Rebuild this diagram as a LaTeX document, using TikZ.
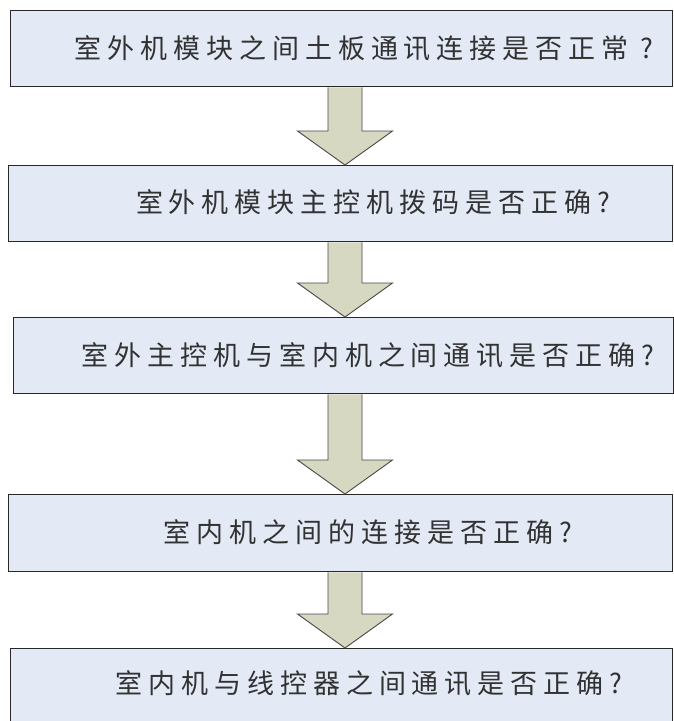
\documentclass[tikz,border=0pt]{standalone}
\usepackage{fontspec}
\newfontfamily\cjk[LetterSpace=22]{Noto Sans CJK SC}
\usetikzlibrary{calc}
\definecolor{boxfill}{RGB}{227,234,246}
\definecolor{arrfill}{RGB}{215,216,194}
\definecolor{txtgray}{RGB}{50,50,50}
\definecolor{edge}{RGB}{40,40,40}
\newcommand\blockarrow[2]{%
  \path (#1.south -| ax) coordinate (#1s) (#2.north -| ax) coordinate (#2n);
  \draw[arr] ($(#1s)+(-17,0)$) -- ($(#2n)+(-17,-34)$) -- ($(#2n)+(-47.5,-34)$)
    -- (#2n) -- ($(#2n)+(47.5,-34)$) -- ($(#2n)+(17,-34)$) -- ($(#1s)+(17,0)$);}
\begin{document}
\begin{tikzpicture}[x=1pt,y=-1pt,
  box/.style={draw=edge, line width=1.4pt, fill=boxfill, inner sep=0pt, anchor=north west, rectangle},
  txt/.style={font=\cjk\fontsize{27}{31}\selectfont, text=txtgray, inner sep=0pt},
  arr/.style={draw=edge!85, line width=0.9pt, fill=arrfill, line join=miter}]
\useasboundingbox (0,0) rectangle (674,721);
\clip (0,0) rectangle (674,721);
\fill[white] (0,0) rectangle (674,721);
\coordinate (ax) at (345,0);
\node[box, minimum width=662pt, minimum height=76pt] (b1) at (10,10) {};
\node[box, minimum width=664pt, minimum height=76pt] (b2) at (8,165) {};
\node[box, minimum width=660pt, minimum height=76pt] (b3) at (13,317) {};
\node[box, minimum width=664pt, minimum height=77pt] (b4) at (8,494) {};
\node[box, minimum width=662pt, minimum height=90pt] (b5) at (10,648) {};
\node[txt] (t1) at (364,48) {室外机模块之间土板通讯连接是否正常 ?};
\node[txt] (t2) at (373,202) {室外机模块主控机拨码是否正确?};
\node[txt] (t3) at (368,355) {室外主控机与室内机之间通讯是否正确?};
\node[txt] (t4) at (368,532) {室内机之间的连接是否正确?};
\node[txt] (t5) at (369,683) {室内机与线控器之间通讯是否正确?};
\blockarrow{b1}{b2}
\blockarrow{b2}{b3}
\blockarrow{b3}{b4}
\blockarrow{b4}{b5}
\end{tikzpicture}
\end{document}
